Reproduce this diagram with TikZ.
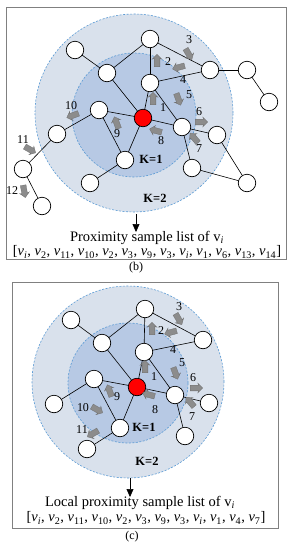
\documentclass[tikz,border=0pt]{standalone}
\usepackage{fontspec}
\setmainfont{Liberation Serif}
\usetikzlibrary{shapes.arrows,arrows.meta}
\definecolor{outerfill}{HTML}{D9E1EC}
\definecolor{innerfill}{HTML}{B7C9E4}
\definecolor{dashblue}{HTML}{5B9BD5}
\definecolor{arrfill}{HTML}{8C8C8C}
\definecolor{arrdraw}{HTML}{6E6E6E}
\newcommand{\vx}[1]{\textit{v}\textsubscript{#1}}
\begin{document}
\begin{tikzpicture}[x=1pt,y=-1pt,
  vnode/.style={circle,draw=black,fill=white,minimum size=17.5pt,inner sep=0pt,line width=0.7pt},
  rnode/.style={vnode,fill=red},
  edge/.style={draw=black,line width=0.6pt},
  panel/.style={draw=gray,line width=0.9pt},
  ring/.style={draw=dashblue,dash pattern=on 2pt off 1.5pt,line width=0.6pt},
  garrow/.style={single arrow,draw=arrdraw,fill=arrfill,minimum height=12.5pt,
     single arrow head extend=2pt,single arrow head indent=0.8pt,inner sep=2.7pt,line width=0.3pt},
  lbl/.style={font=\fontsize{12}{12}\selectfont,inner sep=0pt},
  klbl/.style={font=\fontsize{12.5}{12.5}\selectfont\bfseries,inner sep=0pt},
  ttl/.style={font=\fontsize{14.5}{14.5}\selectfont,inner sep=0pt},
  lst/.style={font=\fontsize{14.5}{14.5}\selectfont,inner sep=0pt},
  captxt/.style={font=\fontsize{12}{12}\selectfont,inner sep=0pt},
  downarr/.style={draw=black,line width=0.6pt,-{Triangle[length=8pt,width=7pt]}}
]
\useasboundingbox (0,0) rectangle (293,550);
\fill[white] (0,0) rectangle (293,550);

% ================= panel (b)
\draw[panel] (6,7) rectangle (286,259);
\fill[outerfill] (134,113) circle[radius=99pt];
\draw[ring] (134,113) circle[radius=99pt];
\fill[innerfill] (134,115) circle[radius=62pt];
\draw[ring] (134,115) circle[radius=62pt];

\coordinate (bA) at (150,39);
\coordinate (bB) at (75,50);
\coordinate (bC) at (107,73);
\coordinate (bD) at (150,83);
\coordinate (bE) at (210,70);
\coordinate (bF) at (247,70);
\coordinate (bG) at (269,102);
\coordinate (bH) at (99,110);
\coordinate (bR) at (143,118);
\coordinate (bI) at (182,127);
\coordinate (bJ) at (217,135);
\coordinate (bK) at (57,134);
\coordinate (bL) at (125,160);
\coordinate (bM) at (90,183);
\coordinate (bN) at (23,169);
\coordinate (bO) at (42,206);
\coordinate (bP) at (192,168);
\coordinate (bQ) at (247,183);

\foreach \a/\b in {bB/bC,bC/bA,bA/bD,bA/bE,bD/bE,bE/bF,bF/bG,bC/bR,bD/bR,bD/bI,bH/bR,bH/bK,bH/bL,bR/bL,bR/bI,bI/bJ,bI/bP,bJ/bQ,bP/bQ,bK/bN,bN/bO,bL/bM}
  \draw[edge] (\a) -- (\b);

\foreach \n in {bA,bB,bC,bD,bE,bF,bG,bH,bI,bJ,bK,bL,bM,bN,bO,bP,bQ}
  \node[vnode] (n\n) at (\n) {};
\node[rnode] (nbR) at (bR) {};

\foreach \x/\y/\r/\lx/\ly/\t in {153/100/90/163/108/1, 157/62/90/168/62/2, 188/53/-60/189/40/3,
   180/67/195/183/80/4, 178/98/-70/189/95/5, 200/122/0/199/112/6, 195/139/130/199/149/7,
   157/131/165/161/141/8, 117/124/110/117/134/9, 74/115/200/71/106/10, 29/149/-30/23/140/11,
   24/190/-80/12/191/12}
{
  \node[garrow,rotate=\r] (ba\t) at (\x,\y) {};
  \node[lbl] (bl\t) at (\lx,\ly) {\t};
}

\node[klbl] (bk1) at (151,159) {K=1};
\node[klbl] (bk2) at (155,198) {K=2};

\coordinate (bs) at (136,214);
\coordinate (be) at (136,232);
\draw[downarr] (bs) -- (be);

\node[ttl] (bt) at (147,238) {Proximity sample list of v\textsubscript{\textit{i}}};
\node[lst] (blist) at (147,252) {[\vx{\textit{i}}, \vx{2}, \vx{11}, \vx{10}, \vx{2}, \vx{3}, \vx{9}, \vx{3}, \vx{\textit{i}}, \vx{1}, \vx{6}, \vx{13}, \vx{14}]};
\node[captxt] (bcap) at (136,268) {(b)};

% ================= panel (c)
\draw[panel] (12,282) rectangle (278,528);
\fill[outerfill] (128,382) circle[radius=96pt];
\draw[ring] (128,382) circle[radius=96pt];
\fill[innerfill] (128,383) circle[radius=60pt];
\draw[ring] (128,383) circle[radius=60pt];

\coordinate (cA) at (145,309);
\coordinate (cB) at (71,320);
\coordinate (cC) at (102,343);
\coordinate (cD) at (144,352);
\coordinate (cE) at (203,340);
\coordinate (cH) at (94,379);
\coordinate (cR) at (137,387);
\coordinate (cI) at (175,395);
\coordinate (cJ) at (209,403);
\coordinate (cK) at (54,404);
\coordinate (cL) at (120,428);
\coordinate (cM) at (87,449);
\coordinate (cP) at (185,436);

\foreach \a/\b in {cB/cC,cC/cA,cA/cD,cA/cE,cD/cE,cC/cR,cD/cR,cD/cI,cH/cR,cH/cK,cH/cL,cR/cL,cR/cI,cI/cJ,cI/cP,cL/cM}
  \draw[edge] (\a) -- (\b);

\foreach \n in {cA,cB,cC,cD,cE,cH,cI,cJ,cK,cL,cM,cP}
  \node[vnode] (n\n) at (\n) {};
\node[rnode] (ncR) at (cR) {};

\foreach \x/\y/\r/\lx/\ly/\t in {145/368/90/154/377/1, 152/330/90/161/331/2, 178/318/-60/179/307/3,
   172/332/195/173/350/4, 175/372/-70/182/363/5, 195/388/0/193/378/6, 191/403/130/192/417/7,
   150/395/165/155/410/8, 110/392/110/117/397/9, 96/409/-30/83/408/10, 94/433/210/82/430/11}
{
  \node[garrow,rotate=\r] (ca\t) at (\x,\y) {};
  \node[lbl] (cl\t) at (\lx,\ly) {\t};
}

\node[klbl] (ck1) at (144,427) {K=1};
\node[klbl] (ck2) at (147,461) {K=2};

\coordinate (cs) at (130,478);
\coordinate (ce) at (130,497);
\draw[downarr] (cs) -- (ce);

\node[ttl] (ct) at (140,503) {Local proximity sample list of v\textsubscript{\textit{i}}};
\node[lst] (clist) at (146,518) {[\vx{\textit{i}}, \vx{2}, \vx{11}, \vx{10}, \vx{2}, \vx{3}, \vx{9}, \vx{3}, \vx{\textit{i}}, \vx{1}, \vx{4}, \vx{7}]};
\node[captxt] (ccap) at (132,537) {(c)};
\end{tikzpicture}
\end{document}
